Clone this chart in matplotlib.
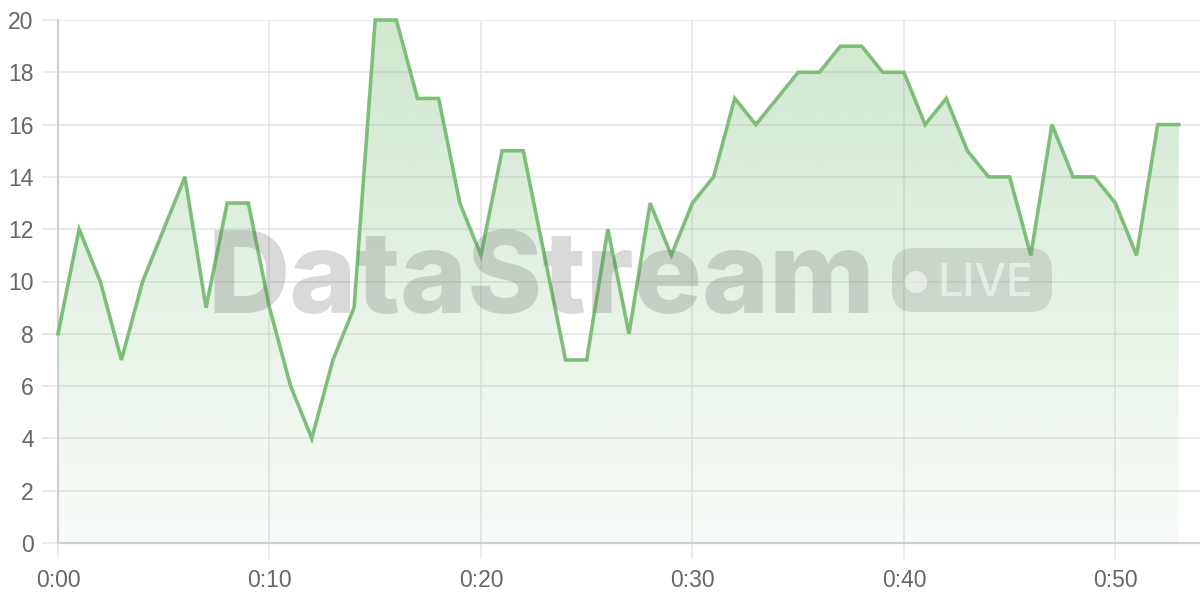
#%% Import packages
import numpy as np
from matplotlib import pyplot as plt
from matplotlib.patches import FancyBboxPatch, Circle
from matplotlib.transforms import IdentityTransform

#%% Data
minutes = list(range(54))
values = [8, 12, 10, 7, 10, 12, 14, 9, 13, 13,
          9, 6, 4, 7, 9, 20, 20, 17, 17, 13,
          11, 15, 15, 11, 7, 7, 12, 8, 13, 11,
          13, 14, 17, 16, 17, 18, 18, 19, 19, 18,
          18, 16, 17, 15, 14, 14, 11, 16, 14, 14,
          13, 11, 16, 16]
xticks = [0, 10, 20, 30, 40, 50]
xlabels = ['0:00', '0:10', '0:20', '0:30', '0:40', '0:50']
yticks = list(range(0, 21, 2))

lineColor = '#7dbf7a'
gridColor = '#e6e6e6'
labelColor = '#666666'

#%% Figure
plt.rcParams['font.family'] = ['Liberation Sans', 'DejaVu Sans']
fig = plt.figure(figsize=(12, 6), dpi=100)
ax = fig.add_axes([58/1200, 57/600, 1142/1200, 523/600])

# grid
ax.set_axisbelow(True)
ax.grid(True, color=gridColor, lw=1.2)
for side in ['top', 'right']:
    ax.spines[side].set_visible(False)
for side in ['left', 'bottom']:
    ax.spines[side].set_color('#d0d0d0')
    ax.spines[side].set_linewidth(1.6)

ax.set_xticks(xticks)
ax.set_xticklabels(xlabels)
ax.set_yticks(yticks)
ax.tick_params(axis='both', colors=gridColor, labelcolor=labelColor,
               labelsize=16.5, length=11.5, width=1.2)
ax.tick_params(axis='y', pad=6)
ax.tick_params(axis='x', pad=7)

# gradient fill under the line
fillPoly = ax.fill_between(minutes, values, 0, color='none', lw=0)
alphaCol = np.linspace(0.05, 0.36, 256).reshape(-1, 1)
grad = np.zeros((256, 1, 4))
grad[..., 0] = 123/255
grad[..., 1] = 190/255
grad[..., 2] = 120/255
grad[..., 3] = alphaCol
img = ax.imshow(grad, extent=[0, 53, 0, 20], origin='lower', aspect='auto', zorder=1.5)
img.set_clip_path(fillPoly.get_paths()[0], transform=ax.transData)
ax.set_xlim(0, 54)
ax.set_ylim(0, 20)

# watermark
fig.text(208/1200, (600-313)/600, 'DataStream', fontsize=82, fontweight='heavy',
         family='Inter', color='#6e6e6e', alpha=0.26, ha='left', va='baseline', zorder=2)
pill = FancyBboxPatch((892, 288), 160, 64, boxstyle='round,pad=0,rounding_size=22',
                      transform=IdentityTransform(), facecolor='#6e6e6e', alpha=0.2,
                      edgecolor='none', zorder=2)
fig.patches.append(pill)
dot = Circle((916, 318), 11, transform=IdentityTransform(), facecolor='white',
             alpha=0.55, edgecolor='none', zorder=2.1)
fig.patches.append(dot)
fig.text(937/1200, (600-296)/600, 'LIVE', fontsize=32, family='Inter', fontweight='medium',
         color='white', alpha=0.55, ha='left', va='baseline', zorder=2.1)

# line
ax.plot(minutes, values, color=lineColor, lw=2.6, zorder=3, clip_on=False,
        solid_joinstyle='miter')

plt.savefig('out.png', dpi=100)
